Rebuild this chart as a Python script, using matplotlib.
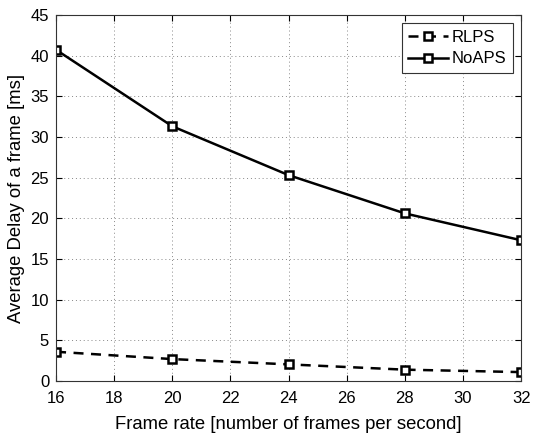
import matplotlib
matplotlib.use("Agg")
import matplotlib.pyplot as plt

plt.rcParams['font.family'] = ['Liberation Sans', 'DejaVu Sans']

frame_rate = [16, 20, 24, 28, 32]
rlps = [3.6, 2.7, 2.05, 1.4, 1.1]
noaps = [40.7, 31.3, 25.3, 20.6, 17.3]

fig = plt.figure(figsize=(5.34, 4.36), dpi=100)
ax = fig.add_axes([0.105, 0.126, 0.871, 0.840])

mk = dict(marker='s', markersize=6, markerfacecolor='white',
          markeredgecolor='black', markeredgewidth=1.8)
ax.plot(frame_rate, rlps, color='black', linestyle=(0, (4, 3)), linewidth=1.8,
        label='RLPS', **mk)
ax.plot(frame_rate, noaps, color='black', linestyle='-', linewidth=1.8,
        label='NoAPS', **mk)

ax.set_xlim(16, 32)
ax.set_ylim(0, 45)
ax.set_xticks(range(16, 33, 2))
ax.set_yticks(range(0, 46, 5))
ax.tick_params(direction='in', labelsize=12, length=4, top=True, right=True)
ax.tick_params(axis='x', pad=7)
ax.tick_params(axis='y', pad=5)
ax.grid(True, linestyle=(0, (1, 3)), color='#888888', linewidth=0.7)
for s in ax.spines.values():
    s.set_color('#333333')
    s.set_linewidth(0.8)

ax.set_xlabel('Frame rate [number of frames per second]', fontsize=13.3, labelpad=7)
ax.set_ylabel('Average Delay of a frame [ms]', fontsize=13.3, labelpad=4)

leg = ax.legend(loc='upper right', fontsize=12, fancybox=False, framealpha=1,
                edgecolor='#333333', handlelength=2.4, borderpad=0.4,
                labelspacing=0.4, handletextpad=0.2)
leg.get_frame().set_linewidth(0.8)

fig.savefig('out.png', dpi=100)
